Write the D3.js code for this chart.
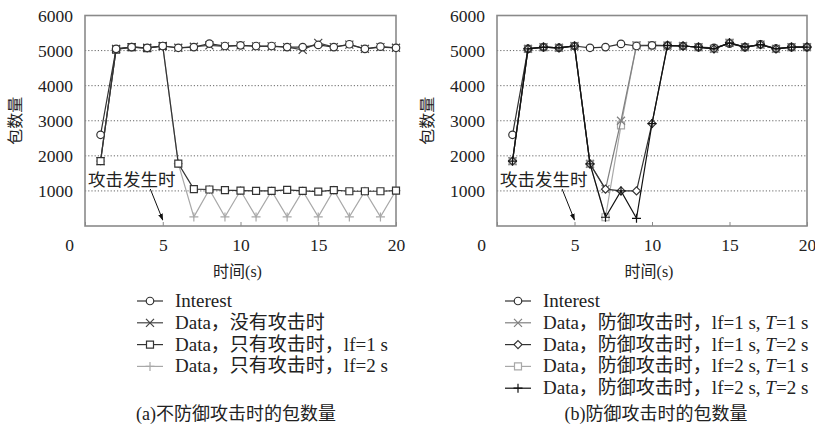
<!DOCTYPE html>
<html lang="zh">
<head>
<meta charset="utf-8" />
<title>包数量</title>
<style>
  body { margin: 0; background: #fff; }
  svg { display: block; }
  .grid line { stroke: #555; stroke-dasharray: 1.2 2; stroke-width: 0.9; }
</style>
<script src="https://d3js.org/d3.v7.min.js"></script>
</head>
<body>
<svg width="815" height="430"></svg>
<script>
// time axis (s)
const times = [1, 2, 3, 4, 5, 6, 7, 8, 9, 10, 11, 12, 13, 14, 15, 16, 17, 18, 19, 20];
const xTicks = [0, 5, 10, 15, 20];
const yTicks = [1000, 2000, 3000, 4000, 5000, 6000];

// (a) no defence
const interestA = [2600, 5050, 5100, 5080, 5130, 5080, 5100, 5200, 5130, 5150, 5130, 5130, 5100, 5100, 5160, 5100, 5180, 5050, 5110, 5080];
const noAttackA = [1850, 5050, 5100, 5080, 5130, 5080, 5110, 5150, 5120, 5150, 5120, 5120, 5100, 5020, 5220, 5100, 5170, 5050, 5100, 5080];
const attackLf1A = [1850, 5030, 5100, 5070, 5130, 1780, 1050, 1040, 1020, 1010, 1000, 1000, 1030, 1000, 980, 1020, 990, 990, 990, 1010];
const attackLf2A = [1850, 5030, 5100, 5070, 5130, 1780, 260, 1040, 260, 1010, 260, 1000, 260, 1000, 260, 1020, 260, 990, 260, 1010];

// (b) with defence
const interestB = [2600, 5050, 5100, 5080, 5130, 5080, 5100, 5190, 5130, 5150, 5140, 5130, 5100, 5080, 5200, 5100, 5180, 5060, 5100, 5100];
const defLf1T1 = [1850, 5050, 5100, 5080, 5130, 1770, 1050, 3000, 5150, 5150, 5140, 5130, 5100, 5050, 5220, 5100, 5170, 5050, 5100, 5100];
const defLf1T2 = [1850, 5050, 5100, 5080, 5130, 1770, 1050, 1000, 1000, 2920, 5150, 5130, 5100, 5050, 5220, 5100, 5170, 5050, 5100, 5100];
const defLf2T1 = [1850, 5050, 5100, 5080, 5130, 1770, 250, 2870, 5150, 5150, 5140, 5130, 5100, 5050, 5220, 5100, 5170, 5050, 5100, 5100];
const defLf2T2 = [1850, 5050, 5100, 5080, 5130, 1770, 250, 1000, 220, 2920, 5150, 5130, 5100, 5050, 5220, 5100, 5170, 5050, 5100, 5100];

const seriesA = [
  { label: "Data，只有攻击时，lf=2 s", values: attackLf2A, shape: "plus", color: "#a8a8a8" },
  { label: "Data，没有攻击时", values: noAttackA, shape: "times", color: "#444" },
  { label: "Data，只有攻击时，lf=1 s", values: attackLf1A, shape: "square", color: "#333" },
  { label: "Interest", values: interestA, shape: "circle", color: "#333" }
];
const legendA = ["Interest", "Data，没有攻击时", "Data，只有攻击时，lf=1 s", "Data，只有攻击时，lf=2 s"];

const seriesB = [
  { label: "Data，防御攻击时，lf=2 s, T=1 s", values: defLf2T1, shape: "square", color: "#a8a8a8" },
  { label: "Data，防御攻击时，lf=1 s, T=1 s", values: defLf1T1, shape: "times", color: "#808080" },
  { label: "Interest", values: interestB, shape: "circle", color: "#333" },
  { label: "Data，防御攻击时，lf=1 s, T=2 s", values: defLf1T2, shape: "diamond", color: "#333" },
  { label: "Data，防御攻击时，lf=2 s, T=2 s", values: defLf2T2, shape: "plus", color: "#111" }
];
const legendB = ["Interest", "Data，防御攻击时，lf=1 s, T=1 s", "Data，防御攻击时，lf=1 s, T=2 s",
                 "Data，防御攻击时，lf=2 s, T=1 s", "Data，防御攻击时，lf=2 s, T=2 s"];

const SERIF = "Liberation Serif, Times New Roman, DejaVu Serif, Noto Sans CJK SC, serif";
const CJK = "Noto Sans CJK SC, sans-serif";

const svg = d3.select("svg");

svg.append("defs").append("marker")
  .attr("id", "arrow")
  .attr("viewBox", "0 0 10 10")
  .attr("refX", 9).attr("refY", 5)
  .attr("markerWidth", 7).attr("markerHeight", 7)
  .attr("orient", "auto")
  .append("path").attr("d", "M0,1.5L10,5L0,8.5Z").attr("fill", "#111");

function markerPath(shape, s) {
  const h = s / 2;
  if (shape === "plus") return `M${-h},0H${h}M0,${-h}V${h}`;
  if (shape === "times") return `M${-h},${-h}L${h},${h}M${-h},${h}L${h},${-h}`;
  if (shape === "square") return `M${-h},${-h}H${h}V${h}H${-h}Z`;
  if (shape === "diamond") return `M0,${-h}L${h},0L0,${h}L${-h},0Z`;
  return d3.arc()({ innerRadius: 0, outerRadius: h, startAngle: 0, endAngle: 2 * Math.PI });
}
const markerSize = { plus: 9, times: 8, square: 7, diamond: 8, circle: 7.5 };
const filled = { plus: false, times: false, square: true, diamond: true, circle: true };

function drawMark(sel, shape, color) {
  sel.append("path")
    .attr("d", markerPath(shape, markerSize[shape]))
    .attr("fill", filled[shape] ? "#fff" : "none")
    .attr("stroke", color)
    .attr("stroke-width", 1.2);
}

function panel(x0, x1, series, legend, legendX, caption, captionX) {
  const x = d3.scaleLinear().domain([0, 20]).range([x0, x1]);
  const y = d3.scaleLinear().domain([0, 6000]).range([226, 15.5]);
  const g = svg.append("g");

  // dotted grid
  g.append("g").attr("class", "grid")
    .selectAll("line").data(yTicks.slice(0, -1)).join("line")
    .attr("x1", x0).attr("x2", x1)
    .attr("y1", d => y(d)).attr("y2", d => y(d));

  // axes
  const ax = g.append("g").attr("transform", `translate(0,${y(0)})`)
    .call(d3.axisBottom(x).tickValues(xTicks).tickFormat(d3.format("d")).tickSize(-4).tickPadding(13));
  ax.attr("font-family", SERIF).attr("font-size", 17.5);
  ax.select(".domain").remove();
  ax.selectAll("text").attr("fill", "#222");
  ax.selectAll("text").filter(d => d === 0).attr("dx", -16);
  ax.selectAll("line").attr("stroke", "#888");

  const ay = g.append("g").attr("transform", `translate(${x0},0)`)
    .call(d3.axisLeft(y).tickValues(yTicks).tickFormat(d3.format("d")).tickSize(0).tickPadding(12));
  ay.attr("font-family", SERIF).attr("font-size", 17.5);
  ay.select(".domain").remove();
  ay.selectAll("text").attr("fill", "#222");

  // frame
  g.append("rect")
    .attr("x", x0).attr("y", y(6000))
    .attr("width", x1 - x0).attr("height", y(0) - y(6000))
    .attr("fill", "none").attr("stroke", "#8a8a8a").attr("stroke-width", 1.6);

  // titles
  g.append("text").attr("font-family", CJK).attr("fill", "#222")
    .attr("transform", `translate(${x0 - 70},${(y(0) + y(6000)) / 2}) rotate(-90)`)
    .attr("text-anchor", "middle").attr("dy", "0.35em")
    .attr("font-size", 16).text("包数量");
  g.append("text").attr("font-family", SERIF).attr("fill", "#222")
    .attr("x", (x0 + x1) / 2 - 3).attr("y", 277)
    .attr("text-anchor", "middle").attr("font-size", 16).text("时间(s)");

  // series
  const line = d3.line().x((d, i) => x(times[i])).y(d => y(d));
  series.forEach(s => {
    g.append("path").datum(s.values)
      .attr("d", line).attr("fill", "none")
      .attr("stroke", s.color).attr("stroke-width", 1.2);
    g.append("g").selectAll("g").data(s.values).join("g")
      .attr("transform", (d, i) => `translate(${x(times[i])},${y(d)})`)
      .each(function () { drawMark(d3.select(this), s.shape, s.color); });
  });

  // annotation
  g.append("text").attr("font-family", CJK).attr("fill", "#222")
    .attr("x", x0 + 3).attr("y", 186).attr("font-size", 17.5).text("攻击发生时");
  g.append("line")
    .attr("x1", x(4.2)).attr("y1", 189).attr("x2", x(5)).attr("y2", 220)
    .attr("stroke", "#111").attr("stroke-width", 1)
    .attr("marker-end", "url(#arrow)");

  // legend
  const lg = g.append("g");
  legend.forEach((lab, i) => {
    const s = series.find(d => d.label === lab);
    const yy = 301 + i * 21.8;
    lg.append("line").attr("x1", legendX).attr("x2", legendX + 26)
      .attr("y1", yy).attr("y2", yy).attr("stroke", s.color).attr("stroke-width", 1.2);
    drawMark(lg.append("g").attr("transform", `translate(${legendX + 13},${yy})`), s.shape, s.color);
    const t = lg.append("text").attr("font-family", SERIF).attr("fill", "#222")
      .attr("x", legendX + 38).attr("y", yy + 6).attr("font-size", 19);
    lab.split(/(T)/).forEach(p => {
      if (p === "") return;
      t.append("tspan").attr("font-style", p === "T" ? "italic" : null).text(p);
    });
  });

  svg.append("text").attr("font-family", SERIF).attr("fill", "#222")
    .attr("x", captionX).attr("y", 420).attr("text-anchor", "middle")
    .attr("font-size", 18).text(caption);
}

panel(85, 396, seriesA, legendA, 137, "(a)不防御攻击时的包数量", 236);
panel(497, 807, seriesB, legendB, 505, "(b)防御攻击时的包数量", 656);
</script>
</body>
</html>
